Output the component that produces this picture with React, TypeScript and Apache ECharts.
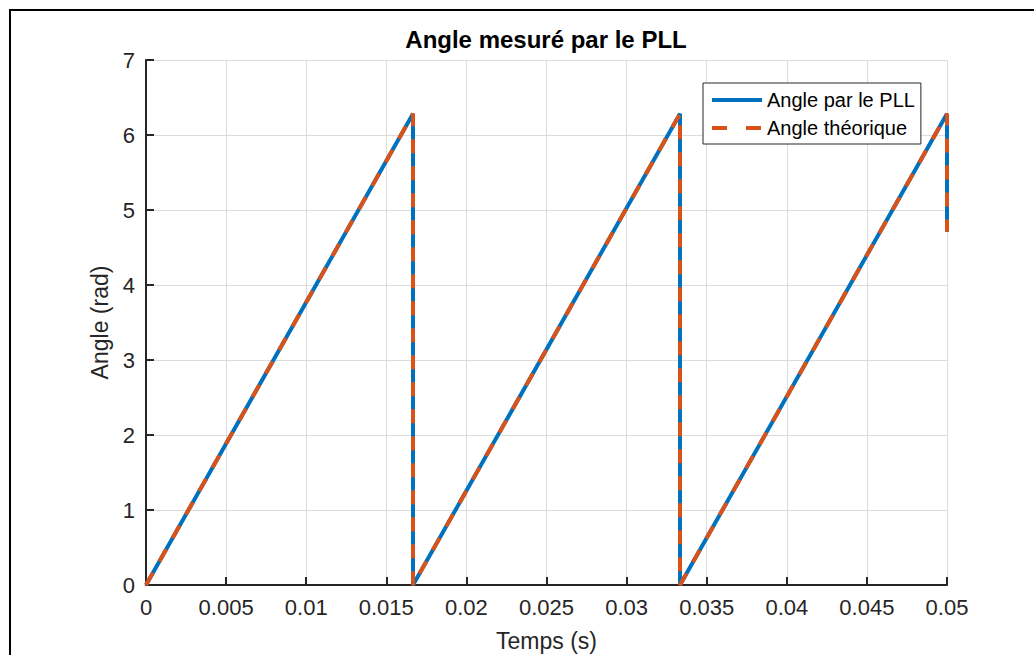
import React, { useEffect, useRef } from "react";
import * as echarts from "echarts";

const timeValues = [0, 0.016667, 0.016667, 0.033333, 0.033333, 0.05, 0.05];
const pllAngle = [0, 6.283, 0, 6.283, 0, 6.283, 4.71];
const theoAngle = [0, 6.283, 0, 6.283, 0, 6.283, 4.71];
const seriesNames = ["Angle par le PLL", "Angle théorique"];

const FONT = "'Liberation Sans', Arial, Helvetica, sans-serif";

export default function App() {
  const ref = useRef<HTMLDivElement>(null);
  useEffect(() => {
    if (!ref.current) return;
    const chart = echarts.init(ref.current, undefined, { renderer: "svg" });
    const pllData = timeValues.map((t, i) => [t, pllAngle[i]]);
    const theoData = timeValues.map((t, i) => [t, theoAngle[i]]);
    chart.setOption({
      animation: false,
      backgroundColor: "#ffffff",
      title: {
        text: "Angle mesuré par le PLL",
        left: 546,
        top: 27,
        textAlign: "center",
        padding: 0,
        textStyle: { fontFamily: FONT, fontSize: 24, fontWeight: "bold", color: "#000" },
      },
      graphic: [
        {
          type: "rect",
          z: -1,
          shape: { x: 10, y: 10, width: 1100, height: 1000 },
          style: { fill: "none", stroke: "#000", lineWidth: 2 },
        },
      ],
      legend: {
        left: 703,
        top: 83,
        orient: "vertical",
        itemWidth: 50,
        itemHeight: 20,
        itemGap: 8,
        padding: [7, 6, 6, 7],
        borderColor: "#262626",
        borderWidth: 1,
        borderRadius: 0,
        backgroundColor: "#fff",
        itemStyle: { opacity: 0 },
        lineStyle: { width: 4 },
        textStyle: { fontFamily: FONT, fontSize: 20, color: "#000" },
        data: [
          { name: seriesNames[0] },
          { name: seriesNames[1], lineStyle: { width: 4, type: [15, 19] } },
        ],
      },
      grid: {
        left: 146,
        top: 60,
        width: 801,
        height: 525,
        containLabel: false,
        outerBoundsMode: "none",
      },
      xAxis: {
        type: "value",
        min: 0,
        max: 0.05,
        interval: 0.005,
        name: "Temps (s)",
        nameLocation: "middle",
        nameGap: 44,
        nameTextStyle: { fontFamily: FONT, fontSize: 23, color: "#262626" },
        axisLine: { show: true, lineStyle: { color: "#262626", width: 2 } },
        axisTick: { show: true, inside: true, length: 8, lineStyle: { color: "#262626", width: 2 } },
        axisLabel: {
          fontFamily: FONT,
          fontSize: 22,
          color: "#262626",
          margin: 11,
          formatter: (v: number) => String(parseFloat(v.toFixed(4))),
        },
        splitLine: { show: true, lineStyle: { color: "#dcdcdc", width: 1 } },
      },
      yAxis: {
        type: "value",
        min: 0,
        max: 7,
        interval: 1,
        name: "Angle (rad)",
        nameLocation: "middle",
        nameGap: 30,
        nameTextStyle: { fontFamily: FONT, fontSize: 23, color: "#262626" },
        axisLine: { show: true, lineStyle: { color: "#262626", width: 2 } },
        axisTick: { show: true, inside: true, length: 8, lineStyle: { color: "#262626", width: 2 } },
        axisLabel: { fontFamily: FONT, fontSize: 22, color: "#262626", margin: 11 },
        splitLine: { show: true, lineStyle: { color: "#dcdcdc", width: 1 } },
      },
      series: [
        {
          name: seriesNames[0],
          type: "line",
          data: pllData,
          showSymbol: false,
          symbol: "none",
          color: "#0072BD",
          lineStyle: { color: "#0072BD", width: 4, cap: "butt" },
          z: 2,
        },
        {
          name: seriesNames[1],
          type: "line",
          data: theoData,
          showSymbol: false,
          symbol: "none",
          color: "#D95319",
          lineStyle: { color: "#D95319", width: 4, type: [14, 13], cap: "butt" },
          z: 3,
        },
      ],
    });
    return () => chart.dispose();
  }, []);
  return (
    <div
      ref={ref}
      style={{ position: "absolute", left: 0, top: 0, width: 1034, height: 655, background: "#fff" }}
    />
  );
}
